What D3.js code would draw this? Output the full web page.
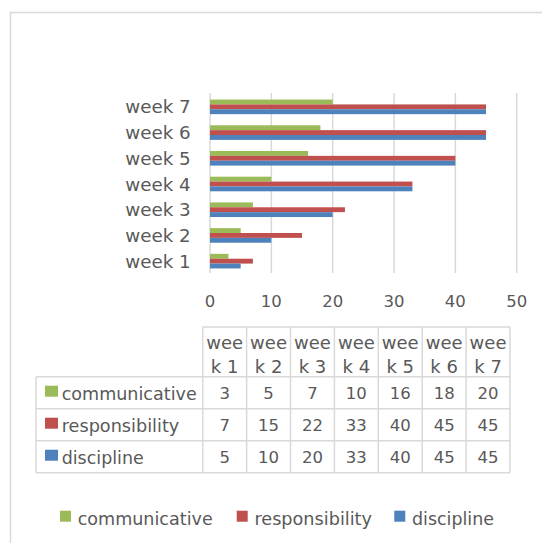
<!DOCTYPE html>
<html>
<head>
<meta charset="utf-8">
<script src="https://cdn.jsdelivr.net/npm/d3@7"></script>
<style>
  body { margin: 0; background: #fff; }
  svg text { font-family: "DejaVu Sans", sans-serif; fill: #595959; }
</style>
</head>
<body>
<svg id="chart" width="542" height="543"></svg>
<script>
// chart data
const weeks = ['week 1', 'week 2', 'week 3', 'week 4', 'week 5', 'week 6', 'week 7'];
const seriesNames = ['communicative', 'responsibility', 'discipline'];
const communicative = [3, 5, 7, 10, 16, 18, 20];
const responsibility = [7, 15, 22, 33, 40, 45, 45];
const discipline = [5, 10, 20, 33, 40, 45, 45];
const xTicks = [0, 10, 20, 30, 40, 50];

const colors = {communicative: '#9BBB59', responsibility: '#C0504D', discipline: '#4F81BD'};
const seriesValues = {communicative, responsibility, discipline};
// the original font (Calibri) is not installed, so stretch series labels to its widths
const labelWidth = {communicative: 135, responsibility: 117.6, discipline: 82};

const svg = d3.select('#chart');
const grid = '#D9D9D9';

// outer chart frame (only top and left visible in the crop)
svg.append('rect')
  .attr('x', 10.5).attr('y', 12.5)
  .attr('width', 600).attr('height', 600)
  .attr('fill', 'none').attr('stroke', grid).attr('stroke-width', 1.5);

// scales
const x = d3.scaleLinear().domain([0, 50]).range([210, 516.7]);
const y = d3.scaleBand().domain(weeks.slice().reverse()).range([93, 273]);
const inner = d3.scaleBand().domain(seriesNames).range([0, 14.6]);

// gridlines
svg.append('g').selectAll('line').data(xTicks).join('line')
  .attr('x1', d => x(d)).attr('x2', d => x(d))
  .attr('y1', 93).attr('y2', 273)
  .attr('stroke', grid).attr('stroke-width', 1.5);

// bars
const groups = svg.append('g').selectAll('g').data(weeks).join('g')
  .attr('transform', (d) => `translate(0,${y(d) + y.bandwidth() / 2 - 7.3 + 1})`);
groups.selectAll('rect')
  .data((w, i) => seriesNames.map(s => ({s, v: seriesValues[s][i]})))
  .join('rect')
  .attr('x', x(0))
  .attr('y', d => inner(d.s))
  .attr('width', d => x(d.v) - x(0))
  .attr('height', inner.bandwidth())
  .attr('fill', d => colors[d.s]);

// x axis tick labels
svg.append('g').selectAll('text').data(xTicks).join('text')
  .attr('x', d => x(d)).attr('y', 301)
  .attr('text-anchor', 'middle').attr('dominant-baseline', 'central')
  .style('font-size', '16.5px')
  .text(d => d);

// category labels
svg.append('g').selectAll('text').data(weeks).join('text')
  .attr('x', 190.7).attr('y', d => y(d) + y.bandwidth() / 2 + 1)
  .attr('text-anchor', 'end').attr('dominant-baseline', 'central')
  .style('font-size', '18.3px')
  .text(d => d);

// data table
const col = d3.scaleBand().domain(weeks).range([202.7, 510]);
const tableLeft = 36;
const headTop = 327;
const rowY = d3.scaleBand().domain(seriesNames).range([376.7, 472.7]);
const table = svg.append('g').attr('stroke', grid).attr('stroke-width', 1.5);

// horizontal lines
table.append('line').attr('x1', col.range()[0]).attr('x2', 510).attr('y1', headTop).attr('y2', headTop);
[376.7, ...seriesNames.map(s => rowY(s) + rowY.bandwidth())].forEach(yy => {
  table.append('line').attr('x1', tableLeft).attr('x2', 510).attr('y1', yy).attr('y2', yy);
});
// vertical lines
table.append('line').attr('x1', tableLeft).attr('x2', tableLeft).attr('y1', 376.7).attr('y2', 472.7);
[...weeks.map(w => col(w)), 510].forEach(xx => {
  table.append('line').attr('x1', xx).attr('x2', xx).attr('y1', headTop).attr('y2', 472.7);
});

// header text, wrapped like the original
const header = svg.append('g').selectAll('text').data(weeks).join('text')
  .attr('text-anchor', 'middle')
  .style('font-size', '18px');
header.append('tspan')
  .attr('x', d => col(d) + col.bandwidth() / 2).attr('y', 349)
  .text(d => d.slice(0, 3));
header.append('tspan')
  .attr('x', d => col(d) + col.bandwidth() / 2).attr('y', 372.5)
  .text(d => d.slice(3));

// row labels with keys
const rows = svg.append('g').selectAll('g').data(seriesNames).join('g')
  .attr('transform', d => `translate(0,${rowY(d) + rowY.bandwidth() / 2})`);
rows.append('rect')
  .attr('x', 45).attr('y', -7).attr('width', 13).attr('height', 11)
  .attr('fill', d => colors[d]);
rows.append('text')
  .attr('x', 61.7).attr('y', 1)
  .attr('dominant-baseline', 'central')
  .attr('textLength', d => labelWidth[d])
  .attr('lengthAdjust', 'spacingAndGlyphs')
  .style('font-size', '17.5px')
  .text(d => d);
rows.selectAll('text.val')
  .data(s => weeks.map((w, i) => ({w, v: seriesValues[s][i]})))
  .join('text')
  .attr('class', 'val')
  .attr('x', d => col(d.w) + col.bandwidth() / 2).attr('y', 1)
  .attr('text-anchor', 'middle').attr('dominant-baseline', 'central')
  .style('font-size', '16.5px')
  .text(d => d.v);

// bottom legend
const legendX = [60, 236.7, 394.3];
const legend = svg.append('g').selectAll('g').data(seriesNames).join('g')
  .attr('transform', (d, i) => `translate(${legendX[i]},519)`);
legend.append('rect')
  .attr('x', 0).attr('y', -8.3).attr('width', 11).attr('height', 11)
  .attr('fill', d => colors[d]);
legend.append('text')
  .attr('x', 17.7).attr('y', 0)
  .attr('dominant-baseline', 'central')
  .attr('textLength', d => labelWidth[d])
  .attr('lengthAdjust', 'spacingAndGlyphs')
  .style('font-size', '17.5px')
  .text(d => d);
</script>
</body>
</html>
